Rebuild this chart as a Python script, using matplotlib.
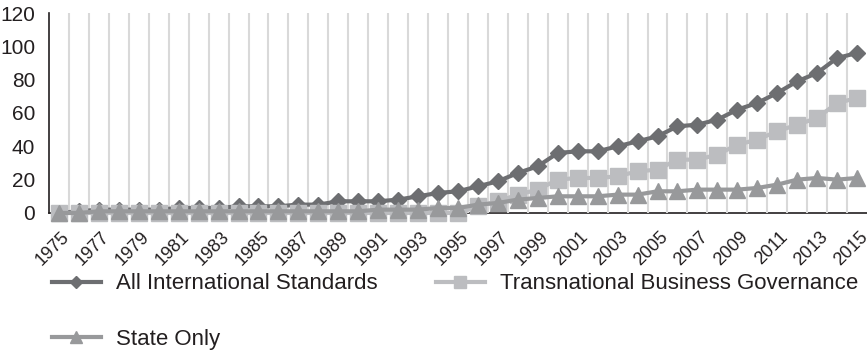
import numpy as np
import matplotlib
matplotlib.use("Agg")
import matplotlib.pyplot as plt
from matplotlib.lines import Line2D
from matplotlib.transforms import ScaledTranslation

# Data
years = list(range(1975, 2016))
all_standards = [0, 1, 2, 2, 2, 2, 3, 3, 3, 4, 4, 4, 5, 5, 7, 7, 7, 8, 10, 12,
                 13, 16, 19, 24, 28, 36, 37, 37, 40, 43, 46, 52, 53, 56, 62, 66,
                 72, 79, 84, 93, 96]
business_gov = [0, 0, 0, 0, 0, 0, 0, 0, 0, 0, 0, 0, 0, 0, 0, 0, 0, 0, 0, 0,
                0, 4, 7, 11, 14, 20, 21, 21, 22, 25, 26, 32, 32, 35, 41, 44,
                49, 53, 57, 66, 69]
state_only = [0, 0, 1, 1, 1, 1, 1, 1, 1, 1, 1, 1, 1, 1, 1, 1, 2, 2, 2, 3,
              3, 5, 6, 8, 9, 10, 10, 10, 11, 11, 13, 13, 14, 14, 14, 15,
              17, 20, 21, 20, 21]
series_names = ["All International Standards", "Transnational Business Governance",
                "State Only"]

plt.rcParams['font.family'] = ['Liberation Sans', 'DejaVu Sans']
text_col = '#231f20'

fig = plt.figure(figsize=(8.67, 3.52), dpi=100)
ax = fig.add_axes([0.0565, 0.395, 0.9435, 0.568])

x = np.arange(len(years))
c_all, c_bus, c_state = '#6d6e71', '#bcbdc0', '#98999b'
ax.plot(x, all_standards, color=c_all, lw=3, marker='D', ms=8,
        clip_on=False, zorder=3)
ax.plot(x, business_gov, color=c_bus, lw=3, marker='s', ms=11.5,
        clip_on=False, zorder=3)
ax.plot(x, state_only, color=c_state, lw=3, marker='^', ms=11,
        clip_on=False, zorder=3)

ax.set_xlim(-0.5, len(years) - 0.5)
ax.set_ylim(0, 120)
ax.set_yticks(range(0, 121, 20))
ax.set_xticks(x[::2])
ax.set_xticklabels([str(y) for y in years[::2]], rotation=45, ha='right',
                   va='top', rotation_mode='anchor')
ax.set_xticks(np.arange(0.5, len(years) - 1), minor=True)
ax.grid(which='minor', axis='x', color='#d9d9d9', lw=1.5)
ax.tick_params(which='both', length=0)
ax.tick_params(axis='y', labelsize=15, labelcolor=text_col, pad=10)
ax.tick_params(axis='x', labelsize=13, labelcolor=text_col, pad=11)
for s in ['top', 'right']:
    ax.spines[s].set_visible(False)
for s in ['left', 'bottom']:
    ax.spines[s].set_color('#231f20')
    ax.spines[s].set_linewidth(1.2)
ax.spines['bottom'].set_zorder(1)

# small nudge of the year labels to the right
offset = ScaledTranslation(0.02, 0, fig.dpi_scale_trans)
for t in ax.xaxis.get_major_ticks():
    t.label1.set_transform(t.label1.get_transform() + offset)

handles = [Line2D([], [], color=c_all, lw=3, marker='D', ms=6),
           Line2D([], [], color=c_bus, lw=3, marker='s', ms=8),
           Line2D([], [], color=c_state, lw=3, marker='^', ms=8)]
fig.legend([handles[0], handles[2], handles[1]],
           [series_names[0], series_names[2], series_names[1]],
           loc='upper left', bbox_to_anchor=(0.047, 0.255), ncol=2, frameon=False,
           fontsize=16, labelcolor=text_col, handlelength=2.2, handletextpad=0.7,
           columnspacing=2.6, labelspacing=1.55, borderpad=0)

fig.savefig('out.png', dpi=100)
